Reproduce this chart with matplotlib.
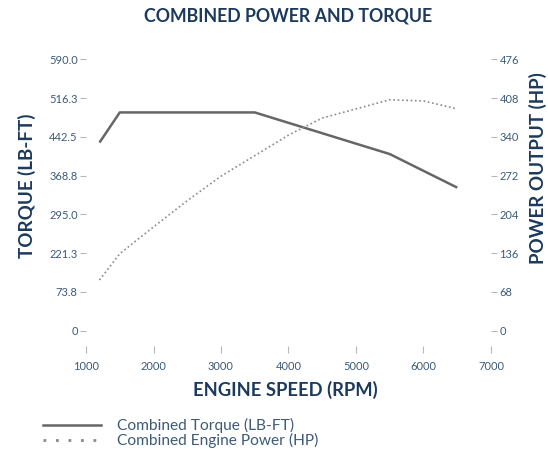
import matplotlib
matplotlib.use("Agg")
import matplotlib.pyplot as plt
from matplotlib.lines import Line2D

# ---- data ----
torque_rpm = [1200, 1500, 3500, 5500, 6500]
torque_vals = [409, 474.5, 474.5, 384, 311]          # lb-ft (left scale)
power_rpm = [1200, 1500, 2000, 2500, 3000, 3500, 4000, 4500, 5000, 5500, 6000, 6500]
power_vals = [89, 135, 182, 228, 271, 307, 343, 373, 389, 405, 403, 389]  # hp
x_ticks = [1000, 2000, 3000, 4000, 5000, 6000, 7000]
hp_ticks = [0, 68, 136, 204, 272, 340, 408, 476]
torque_tick_labels = ["0", "73.8", "221.3", "295.0", "368.8", "442.5", "516.3", "590.0"]

navy = "#1c3a5c"
tick_col = "#3d5a78"
font = "Lato"

scale = 590.0 / 476.0

fig = plt.figure(figsize=(5.48, 4.54), dpi=100)
ax = fig.add_axes([86/548, 1-330.7/454, (491-86)/548, (330.7-59.3)/454])
ax2 = ax.twinx()

ax.plot(torque_rpm, torque_vals, color="#666666", lw=1.8, solid_capstyle="butt")
ax2.plot(power_rpm, power_vals, color="#8a8a8a", lw=1.2, linestyle=(0, (1, 1.6)))

ax.set_xlim(1000, 7000)
ax2.set_ylim(0, 476)
ax.set_ylim(0, 476 * scale)

ax.set_yticks([v * scale for v in hp_ticks])
ax.set_yticklabels(torque_tick_labels)
ax2.set_yticks(hp_ticks)
ax2.set_yticklabels([str(v) for v in hp_ticks])
ax.set_xticks(x_ticks)

for a in (ax, ax2):
    for s in a.spines.values():
        s.set_visible(False)
ax.spines["bottom"].set_position(("outward", 11))

ax.tick_params(axis="y", length=4, width=0.8, color="#b0b8c0", pad=2,
               labelsize=8, labelcolor=tick_col)
ax2.tick_params(axis="y", length=4, width=0.8, color="#b0b8c0", pad=2,
                labelsize=8, labelcolor=tick_col)
ax.tick_params(axis="x", length=5, width=0.8, color="#b0b8c0", pad=6,
               labelsize=8, labelcolor=tick_col)
for lab in ax.get_xticklabels() + ax.get_yticklabels() + ax2.get_yticklabels():
    lab.set_fontfamily(font)

fig.text(288/548, 1-16/454, "COMBINED POWER AND TORQUE", ha="center", va="center",
         fontsize=12.8, fontweight="bold", color=navy, family=font)
fig.text(285/548, 1-390/454, "ENGINE SPEED (RPM)", ha="center", va="center",
         fontsize=13.2, fontweight="bold", color=navy, family=font)
fig.text(27/548, 1-186/454, "TORQUE (LB-FT)", ha="center", va="center", rotation=90,
         fontsize=13.5, fontweight="bold", color=navy, family=font)
fig.text(538/548, 1-168/454, "POWER OUTPUT (HP)", ha="center", va="center", rotation=90,
         fontsize=13.5, fontweight="bold", color=navy, family=font)

handles = [Line2D([], [], color="#666666", lw=1.8),
           Line2D([], [], color="#8a8a8a", lw=2.0, linestyle=(0, (1, 3.5)))]
labels = ["Combined Torque (LB-FT)", "Combined Engine Power (HP)"]
fig.legend(handles, labels, loc="center left", bbox_to_anchor=(43/548, 1-433/454),
           frameon=False, borderpad=0, borderaxespad=0,
           handlelength=3.7, handletextpad=1.05, labelspacing=0.0,
           prop={"family": font, "size": 11.2}, labelcolor=tick_col)

fig.savefig("out.png", dpi=100, facecolor="white")
